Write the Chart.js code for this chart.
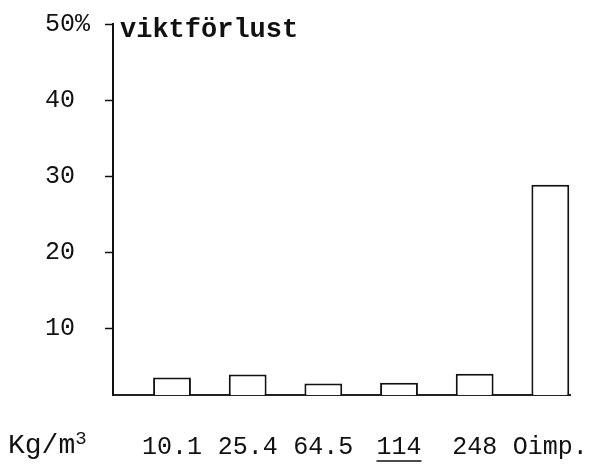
<!DOCTYPE html>
<html>
<head>
<meta charset="utf-8">
<script src="https://cdn.jsdelivr.net/npm/chart.js@4.4.0/dist/chart.umd.min.js"></script>
<style>
  html, body { margin: 0; padding: 0; background: #fff; }
  #wrap { position: relative; width: 603px; height: 469px; }
  canvas { position: absolute; left: 0; top: 0; }
  .lbl { position: absolute; font-family: "Liberation Mono", monospace; color: #111; line-height: 30px; white-space: nowrap; }
  #ytitle { left: 120px; top: 15px; font-size: 27px; font-weight: bold; }
  #xunit { left: 8px; top: 431px; font-size: 28px; }
  #xunit sup { font-size: 19px; vertical-align: 9px; line-height: 0; }
</style>
</head>
<body>
<div id="wrap">
  <canvas id="c" width="603" height="469"></canvas>
  <div class="lbl" id="ytitle">viktförlust</div>
  <div class="lbl" id="xunit">Kg/m<sup>3</sup></div>
</div>
<script>
// Data
const categories = ['10.1', '25.4', '64.5', '114', '248', 'Oimp.'];
const weightLoss = [3.6, 4.0, 2.8, 2.9, 4.1, 28.9];
const yTickValues = [10, 20, 30, 40, 50];
const yTickLabels = ['10', '20', '30', '40', '50%'];
const underlinedCategory = '114';

const ink = '#111';
const font = { family: '"Liberation Mono", monospace', size: 25 };

const points = categories.map((c, i) => ({ x: i, y: weightLoss[i] }));

// underline one x tick label, as in the typed original
const underlinePlugin = {
  id: 'underline',
  afterDraw(chart) {
    const xs = chart.scales.x;
    const idx = categories.indexOf(underlinedCategory);
    if (idx < 0) return;
    const ctx = chart.ctx;
    ctx.save();
    ctx.font = font.size + 'px ' + font.family;
    const w = ctx.measureText(underlinedCategory).width;
    const cx = xs.getPixelForValue(idx);
    const y = xs.top + xs.options.ticks.padding + 29;
    ctx.strokeStyle = ink;
    ctx.lineWidth = 1.5;
    ctx.beginPath();
    ctx.moveTo(cx - w / 2, y);
    ctx.lineTo(cx + w / 2, y);
    ctx.stroke();
    ctx.restore();
  }
};

new Chart(document.getElementById('c'), {
  type: 'bar',
  data: {
    datasets: [{
      data: points,
      backgroundColor: '#fff',
      borderColor: ink,
      borderWidth: 2,
      borderSkipped: 'start',
      barPercentage: 0.5,
      categoryPercentage: 1.0
    }]
  },
  plugins: [underlinePlugin],
  options: {
    responsive: false,
    animation: false,
    devicePixelRatio: 1,
    layout: { padding: { left: 45, right: 33, top: 24, bottom: 7 } },
    plugins: { legend: { display: false }, tooltip: { enabled: false } },
    scales: {
      x: {
        type: 'linear',
        offset: false,
        min: -0.78,
        max: 5.26,
        afterBuildTicks: (scale) => { scale.ticks = categories.map((c, i) => ({ value: i })); },
        afterFit: (scale) => { scale.height = 67; scale.paddingLeft = 0; scale.paddingRight = 0; },
        ticks: {
          autoSkip: false,
          maxRotation: 0,
          padding: 37,
          color: ink,
          font: font,
          callback: (v) => categories[v]
        },
        grid: { display: false, drawTicks: false },
        border: { display: true, color: '#222', width: 2 }
      },
      y: {
        min: 1.3,
        max: 50,
        afterBuildTicks: (scale) => { scale.ticks = yTickValues.map(v => ({ value: v })); },
        afterFit: (scale) => { scale.width = 68; },
        ticks: {
          crossAlign: 'far',
          padding: 9,
          color: ink,
          font: font,
          callback: (v) => yTickLabels[yTickValues.indexOf(v)]
        },
        grid: { drawOnChartArea: false, drawTicks: true, tickLength: 8, color: ink, tickWidth: 1.5 },
        border: { display: true, color: ink, width: 2 }
      }
    }
  }
});
</script>
</body>
</html>
